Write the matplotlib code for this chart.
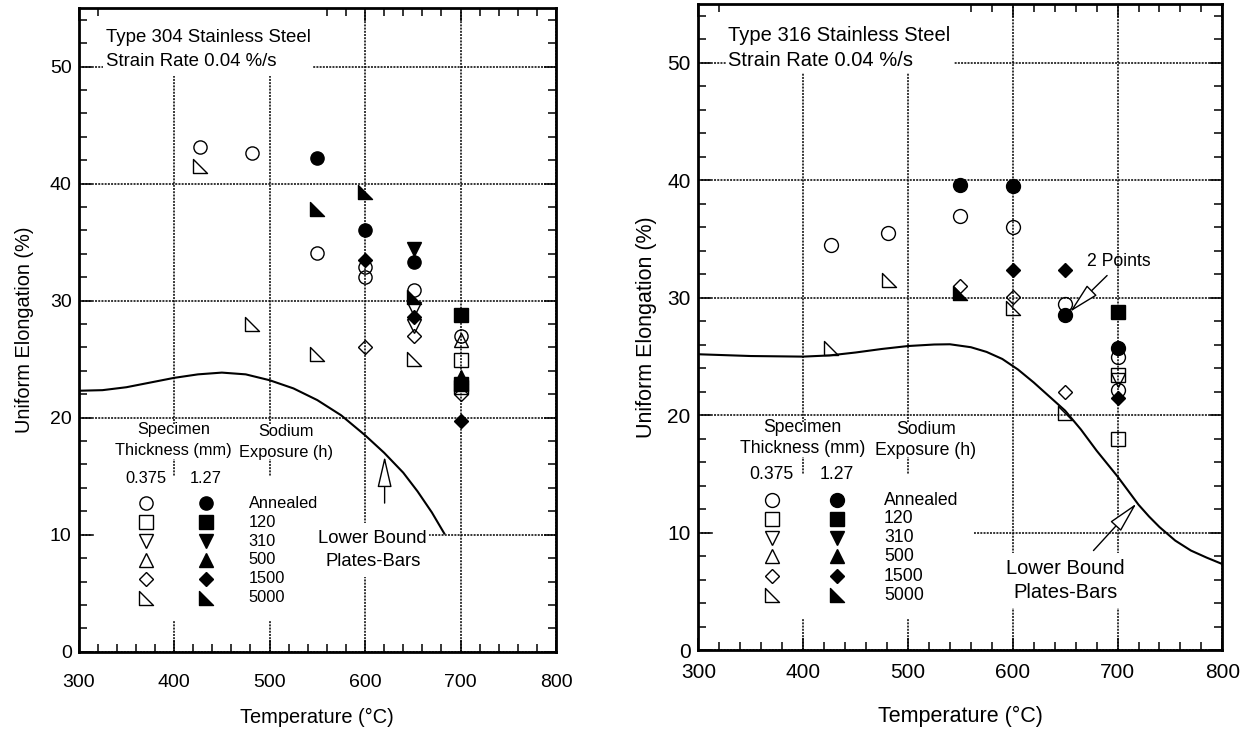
import matplotlib
matplotlib.use("Agg")
import matplotlib.pyplot as plt
from matplotlib.path import Path
from matplotlib.patches import Rectangle
from matplotlib.ticker import MultipleLocator

plt.rcParams['font.family'] = ['Liberation Sans', 'DejaVu Sans']

# ---- legend categories ----
exposures = ['Annealed', '120', '310', '500', '1500', '5000']
thicknesses = ['0.375', '1.27']

# ---- Type 304 stainless steel ----
ss304_temp = [427, 427, 482, 482,
              550, 550, 550, 550,
              600, 600, 600, 600, 600, 600,
              651, 651, 651, 651, 651, 651, 651, 651, 651,
              700, 700, 700, 700, 700, 700, 700, 700, 700]
ss304_elong = [43.1, 41.5, 42.6, 28.0,
               42.2, 37.8, 34.05, 25.4,
               39.3, 36.0, 33.5, 32.9, 32.0, 26.0,
               34.4, 33.3, 30.9, 30.3, 29.3, 28.6, 27.8, 27.0, 25.0,
               28.8, 27.0, 26.6, 24.9, 23.5, 22.9, 22.6, 22.0, 19.7]
ss304_exposure = ['Annealed', '5000', 'Annealed', '5000',
                  'Annealed', '5000', 'Annealed', '5000',
                  '5000', 'Annealed', '1500', 'Annealed', 'Annealed', '1500',
                  '310', 'Annealed', 'Annealed', '5000', '310', '1500', '310', '1500', '5000',
                  '120', 'Annealed', '500', '120', '500', '120', '120', '1500', '1500']
ss304_thick = ['0.375', '0.375', '0.375', '0.375',
               '1.27', '1.27', '0.375', '0.375',
               '1.27', '1.27', '1.27', '0.375', '0.375', '0.375',
               '1.27', '1.27', '0.375', '1.27', '0.375', '1.27', '0.375', '0.375', '0.375',
               '1.27', '0.375', '0.375', '0.375', '1.27', '1.27', '0.375', '0.375', '1.27']
lb304_temp = [300, 325, 350, 375, 400, 425, 450, 475, 500, 525, 550, 575, 600, 620, 640,
              655, 670, 683]
lb304_elong = [22.3, 22.35, 22.6, 23.0, 23.4, 23.7, 23.85, 23.7, 23.2, 22.5, 21.5, 20.2,
               18.5, 17.0, 15.3, 13.7, 11.9, 10.1]

# ---- Type 316 stainless steel ----
ss316_temp = [427, 427, 481, 482,
              550, 550, 550, 550,
              600, 600, 600, 600, 600,
              650, 650, 650, 650, 650,
              700, 700, 700, 700, 700, 700, 700, 700]
ss316_elong = [34.5, 25.7, 35.5, 31.5,
               39.6, 37.0, 31.0, 30.4,
               39.5, 36.0, 32.4, 30.1, 29.1,
               32.4, 29.5, 28.5, 22.0, 20.2,
               28.8, 25.7, 25.0, 23.4, 23.0, 22.2, 21.5, 18.0]
ss316_exposure = ['Annealed', '5000', 'Annealed', '5000',
                  'Annealed', 'Annealed', '1500', '5000',
                  'Annealed', 'Annealed', '1500', '1500', '5000',
                  '1500', 'Annealed', 'Annealed', '1500', '5000',
                  '120', 'Annealed', 'Annealed', '120', '310', 'Annealed', '1500', '120']
ss316_thick = ['0.375', '0.375', '0.375', '0.375',
               '1.27', '0.375', '0.375', '1.27',
               '1.27', '0.375', '1.27', '0.375', '0.375',
               '1.27', '0.375', '1.27', '0.375', '0.375',
               '1.27', '1.27', '0.375', '0.375', '0.375', '0.375', '1.27', '0.375']
lb316_temp = [300, 350, 400, 425, 450, 475, 500, 525, 540, 560, 575, 590, 605, 620, 635,
              650, 665, 680, 690, 700, 710, 720, 730, 740, 755, 770, 785, 800]
lb316_elong = [25.2, 25.05, 25.0, 25.1, 25.35, 25.65, 25.9, 26.03, 26.05, 25.8, 25.4, 24.8,
               23.9, 22.8, 21.6, 20.4, 18.8, 17.0, 15.9, 14.8, 13.6, 12.4, 11.4, 10.5, 9.35,
               8.5, 7.9, 7.35]

# ---- marker styles ----
right_tri = Path([(-1, 1), (-1, -1), (1, -1), (-1, 1)],
                 [Path.MOVETO, Path.LINETO, Path.LINETO, Path.CLOSEPOLY])
marker_shape = {'Annealed': 'o', '120': 's', '310': 'v', '500': '^', '1500': 'D',
                '5000': right_tri}
face_for = {'0.375': 'none', '1.27': 'black'}

GRID_LS = (0, (1.3, 0.8))


def msize(ex, base):
    # diamonds are drawn as rotated squares, so they need a smaller nominal size
    return base * 0.75 if ex == '1500' else base


def setup(ax, fs, xpad, ypad):
    ax.set_xlim(300, 800)
    ax.set_ylim(0, 55)
    ax.xaxis.set_major_locator(MultipleLocator(100))
    ax.xaxis.set_minor_locator(MultipleLocator(20))
    ax.yaxis.set_major_locator(MultipleLocator(10))
    ax.yaxis.set_minor_locator(MultipleLocator(2))
    ax.tick_params(which='both', direction='in', top=True, right=True, width=1.1, colors='k')
    ax.tick_params(which='major', length=9, labelsize=fs)
    ax.tick_params(which='minor', length=6)
    ax.tick_params(axis='x', which='major', pad=xpad)
    ax.tick_params(axis='y', which='major', pad=ypad)
    for s in ax.spines.values():
        s.set_linewidth(2)
    ax.set_axisbelow(True)
    ax.grid(True, which='major', color='k', lw=1.1, ls=GRID_LS)


def blank(ax, x0, x1, y0, y1):
    ax.add_patch(Rectangle((x0, y0), x1 - x0, y1 - y0, facecolor='white',
                           edgecolor='none', zorder=1))


def draw_points(ax, temp, elong, expo, thick, base):
    for th in thicknesses:
        for ex in exposures:
            xs = [t for t, e, h in zip(temp, expo, thick) if e == ex and h == th]
            ys = [v for v, e, h in zip(elong, expo, thick) if e == ex and h == th]
            if not xs:
                continue
            ax.plot(xs, ys, ls='none', marker=marker_shape[ex], ms=msize(ex, base),
                    mfc=face_for[th], mec='k', mew=1.0,
                    zorder=3 if th == '0.375' else 4, clip_on=False)


def draw_key(ax, fs, base, x_thin, x_thick, x_lab, y_rows, y_head):
    kw = dict(va='center', fontsize=fs, zorder=5)
    ax.text(399.5, y_head + 1.0, 'Specimen', ha='center', **kw)
    ax.text(399.5, y_head - 0.8, 'Thickness (mm)', ha='center', **kw)
    ax.text(517, y_head + 0.8, 'Sodium', ha='center', **kw)
    ax.text(517, y_head - 1.0, 'Exposure (h)', ha='center', **kw)
    ax.text(x_thin, y_rows[0] + 2.15, thicknesses[0], ha='center', **kw)
    ax.text(x_thick, y_rows[0] + 2.15, thicknesses[1], ha='center', **kw)
    for ex, y in zip(exposures, y_rows):
        for x, th in ((x_thin, '0.375'), (x_thick, '1.27')):
            ax.plot([x], [y], ls='none', marker=marker_shape[ex], ms=msize(ex, base),
                    mfc=face_for[th], mec='k', mew=1.0, zorder=5)
        ax.text(x_lab, y, ex, ha='left', **kw)


open_head = dict(arrowstyle='-|>,head_length=1.3,head_width=0.3', mutation_scale=15,
                 fc='white', ec='black', lw=1.0, shrinkA=0, shrinkB=0)

fig = plt.figure(figsize=(12.5, 7.38), dpi=100)
ax1 = fig.add_axes([0.0629, 0.1169, 0.3819, 0.8722])
ax2 = fig.add_axes([0.5587, 0.1186, 0.4192, 0.876])

# ---- left panel: Type 304 ----
setup(ax1, 14, 16, 5)
ax1.set_xlabel('Temperature (°C)', fontsize=14.4)
ax1.set_ylabel('Uniform Elongation (%)', fontsize=14.4)
blank(ax1, 326, 545, 49.2, 55)
blank(ax1, 316, 567, 16.5, 19.45)
blank(ax1, 316, 567, 2.7, 15.0)
blank(ax1, 551, 667, 6.4, 11.0)
ax1.text(328.5, 52.5, 'Type 304 Stainless Steel', ha='left', va='center', fontsize=13.4, zorder=5)
ax1.text(328.5, 50.4, 'Strain Rate 0.04 %/s', ha='left', va='center', fontsize=13.4, zorder=5)
ax1.plot(lb304_temp, lb304_elong, color='k', lw=1.5, zorder=2)
draw_points(ax1, ss304_temp, ss304_elong, ss304_exposure, ss304_thick, 9.5)
draw_key(ax1, 11.8, 9.5, 371, 433, 478, [12.68, 11.06, 9.46, 7.84, 6.22, 4.62], 18.0)
ax1.text(608, 9.7, 'Lower Bound', ha='center', va='center', fontsize=13.3, zorder=5)
ax1.text(608, 7.7, 'Plates-Bars', ha='center', va='center', fontsize=13.3, zorder=5)
ax1.annotate('', xy=(620.5, 16.7), xytext=(620.5, 12.7), arrowprops=open_head, zorder=5)
ax1.xaxis.set_label_coords(0.5, -0.088)
ax1.yaxis.set_label_coords(-0.093, 0.5)

# ---- right panel: Type 316 ----
setup(ax2, 15, 9, 5.5)
ax2.set_xlabel('Temperature (°C)', fontsize=15.5)
ax2.set_ylabel('Uniform Elongation (%)', fontsize=15.5)
blank(ax2, 326, 544, 49.1, 55)
blank(ax2, 315, 567, 16.5, 19.45)
blank(ax2, 315, 563, 2.7, 15.0)
blank(ax2, 593, 707, 3.6, 8.3)
ax2.text(327.8, 52.3, 'Type 316 Stainless Steel', ha='left', va='center', fontsize=14.5, zorder=5)
ax2.text(327.8, 50.2, 'Strain Rate 0.04 %/s', ha='left', va='center', fontsize=14.5, zorder=5)
ax2.plot(lb316_temp, lb316_elong, color='k', lw=1.5, zorder=2)
draw_points(ax2, ss316_temp, ss316_elong, ss316_exposure, ss316_thick, 10)
draw_key(ax2, 12.7, 10, 370, 432, 477, [12.8, 11.2, 9.6, 8.0, 6.3, 4.7], 18.0)
ax2.text(650, 7.0, 'Lower Bound', ha='center', va='center', fontsize=14.5, zorder=5)
ax2.text(650, 4.9, 'Plates-Bars', ha='center', va='center', fontsize=14.5, zorder=5)
ax2.annotate('', xy=(718, 12.5), xytext=(677, 8.5), arrowprops=open_head, zorder=5)
ax2.text(701, 33.1, '2 Points', ha='center', va='center', fontsize=12.7, zorder=5)
ax2.annotate('', xy=(654.5, 28.8), xytext=(690, 31.9), arrowprops=open_head, zorder=5)
ax2.xaxis.set_label_coords(0.5, -0.086)
ax2.yaxis.set_label_coords(-0.079, 0.5)

fig.savefig('out.png', dpi=100)
